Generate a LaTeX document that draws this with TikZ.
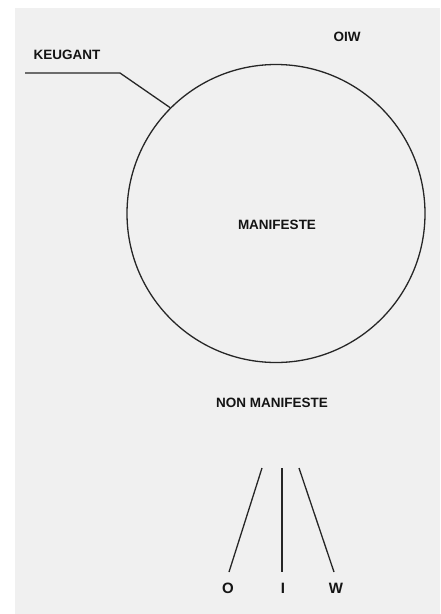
\documentclass[tikz,border=0pt]{standalone}
\usepackage{fontspec}
\setmainfont{Liberation Sans}
\begin{document}
\begin{tikzpicture}[x=1pt,y=-1pt,
  lbl/.style={font=\bfseries\fontsize{13.5}{15}\selectfont, inner sep=0pt, text=black!92},
  big/.style={font=\bfseries\fontsize{15}{17}\selectfont, inner sep=0pt, text=black!92},
  ln/.style={line width=1.3pt, black!85}]
\useasboundingbox (0,0) rectangle (441,614);
\fill[white] (0,0) rectangle (441,614);
\fill[black!6] (15,8) rectangle (440,614);
\node[circle, draw=black!85, line width=1.3pt, minimum size=298pt, inner sep=0pt] (circ) at (276,213.5) {};
\node[lbl] (man) at (277,225) {MANIFESTE};
\node[lbl] (non) at (272,403) {NON MANIFESTE};
\node[lbl] (keu) at (67,55) {KEUGANT};
\node[lbl] (oiw) at (347,37) {OIW};
\coordinate (k0) at (25,73);
\coordinate (k1) at (120,73);
\draw[ln] (k0) -- (k1) -- (circ.135);
\node[big] (o) at (228,588) {O};
\node[big] (i) at (283,588) {I};
\node[big] (w) at (336,588) {W};
\coordinate (ot) at (262,468);
\coordinate (it) at (282,468);
\coordinate (wt) at (299,468);
\draw[ln] (ot) -- (229,572);
\draw[ln] (it) -- (282,572);
\draw[ln] (wt) -- (334,572);
\end{tikzpicture}
\end{document}
